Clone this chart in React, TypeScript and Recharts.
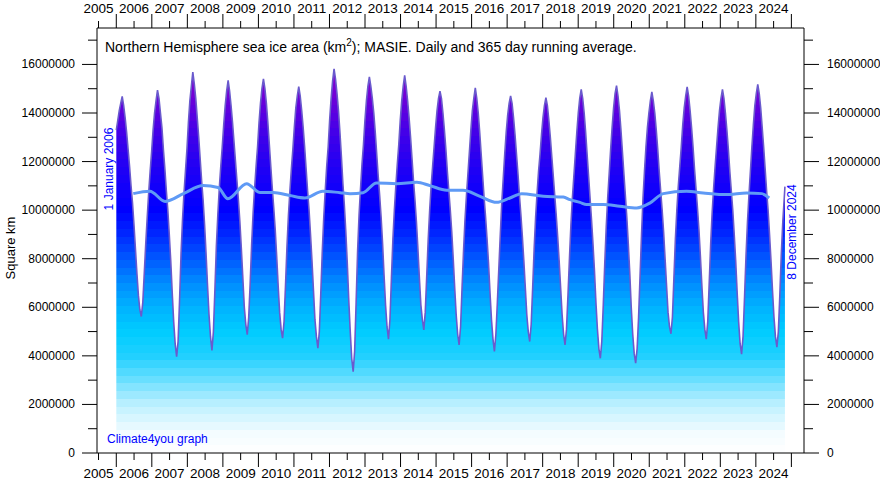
import React from "react"
import { Area, ComposedChart, Line, XAxis, YAxis } from "recharts"

// MASIE northern hemisphere sea ice, million km2
// one value at the 1st and the 16th of every month
const ice2006 = [13.3, 13.7, 14.1, 14.4, 14.68, 14.3, 13.8, 13.2, 12.5, 11.8, 11.0, 10.3, 9.4, 8.4, 7.4, 6.5, 5.9, 5.62, 6.2, 7.4, 8.6, 9.7, 10.7, 11.6]
const ice2007 = [12.4, 13.3, 14.0, 14.5, 14.94, 14.6, 14.0, 13.4, 12.5, 11.7, 10.8, 10.0, 9.0, 7.9, 6.6, 5.4, 4.5, 3.97, 4.6, 6.3, 8.2, 9.6, 10.7, 11.6]
const ice2008 = [12.5, 13.6, 14.5, 15.1, 15.68, 15.2, 14.6, 13.8, 13.0, 12.1, 11.2, 10.4, 9.4, 8.2, 6.9, 5.7, 4.8, 4.22, 5.0, 6.7, 8.5, 9.8, 10.9, 11.8]
const ice2009 = [12.6, 13.5, 14.3, 14.9, 15.34, 14.9, 14.3, 13.6, 12.8, 12.0, 11.2, 10.4, 9.5, 8.4, 7.2, 6.0, 5.3, 4.87, 5.6, 7.0, 8.6, 9.9, 10.9, 11.8]
const ice2010 = [12.6, 13.6, 14.4, 15.0, 15.41, 15.0, 14.4, 13.6, 12.7, 11.8, 10.9, 10.1, 9.2, 8.1, 6.9, 5.8, 5.1, 4.73, 5.4, 6.9, 8.5, 9.8, 10.8, 11.7]
const ice2011 = [12.5, 13.4, 14.2, 14.7, 15.09, 14.7, 14.1, 13.4, 12.6, 11.7, 10.8, 10.0, 9.0, 7.9, 6.7, 5.5, 4.8, 4.32, 5.0, 6.6, 8.3, 9.7, 10.8, 11.8]
const ice2012 = [12.6, 13.7, 14.6, 15.3, 15.82, 15.4, 14.8, 14.1, 13.2, 12.2, 11.1, 10.2, 9.1, 7.8, 6.3, 5.0, 3.9, 3.35, 4.2, 6.2, 8.3, 9.8, 10.9, 11.9]
const ice2013 = [12.7, 13.7, 14.5, 15.1, 15.49, 15.1, 14.6, 14.0, 13.2, 12.3, 11.4, 10.6, 9.7, 8.6, 7.3, 6.1, 5.2, 4.69, 5.5, 7.2, 8.8, 10.0, 11.0, 11.9]
const ice2014 = [12.7, 13.7, 14.5, 15.1, 15.55, 15.1, 14.5, 13.8, 13.0, 12.1, 11.2, 10.4, 9.5, 8.4, 7.2, 6.1, 5.5, 5.07, 5.8, 7.3, 8.8, 10.0, 11.0, 11.8]
const ice2015 = [12.6, 13.4, 14.1, 14.6, 14.9, 14.6, 14.0, 13.3, 12.5, 11.6, 10.8, 10.0, 9.1, 8.0, 6.8, 5.7, 4.9, 4.45, 5.2, 6.8, 8.3, 9.6, 10.6, 11.5]
const ice2016 = [12.4, 13.3, 14.1, 14.6, 15.04, 14.6, 14.0, 13.2, 12.3, 11.4, 10.5, 9.7, 8.8, 7.8, 6.6, 5.5, 4.7, 4.18, 4.9, 6.2, 7.6, 9.0, 10.3, 11.3]
const ice2017 = [12.3, 13.2, 13.9, 14.4, 14.7, 14.4, 13.8, 13.1, 12.3, 11.5, 10.6, 9.8, 8.9, 7.9, 6.8, 5.7, 5.0, 4.59, 5.3, 6.8, 8.4, 9.7, 10.7, 11.6]
const ice2018 = [12.3, 13.1, 13.8, 14.3, 14.63, 14.3, 13.7, 13.0, 12.2, 11.4, 10.6, 9.8, 8.9, 7.9, 6.8, 5.7, 4.9, 4.45, 5.1, 6.5, 8.0, 9.4, 10.5, 11.4]
const ice2019 = [12.3, 13.2, 14.0, 14.6, 14.97, 14.6, 14.0, 13.2, 12.3, 11.4, 10.5, 9.6, 8.6, 7.5, 6.2, 5.1, 4.3, 3.9, 4.6, 6.1, 7.8, 9.3, 10.5, 11.5]
const ice2020 = [12.5, 13.4, 14.2, 14.8, 15.13, 14.7, 14.1, 13.3, 12.4, 11.5, 10.6, 9.7, 8.6, 7.4, 6.0, 4.9, 4.1, 3.7, 4.3, 5.6, 7.3, 9.0, 10.5, 11.6]
const ice2021 = [12.6, 13.4, 14.0, 14.5, 14.87, 14.5, 14.0, 13.3, 12.5, 11.6, 10.8, 10.0, 9.1, 8.0, 6.9, 5.8, 5.2, 4.91, 5.6, 7.2, 8.8, 10.0, 11.0, 11.8]
const ice2022 = [12.6, 13.5, 14.2, 14.7, 15.08, 14.7, 14.1, 13.4, 12.6, 11.7, 10.9, 10.1, 9.2, 8.1, 6.9, 5.8, 5.1, 4.69, 5.4, 7.0, 8.6, 9.9, 10.9, 11.8]
const ice2023 = [12.6, 13.4, 14.1, 14.6, 14.97, 14.6, 14.0, 13.3, 12.5, 11.6, 10.8, 10.0, 9.0, 7.9, 6.6, 5.4, 4.5, 4.07, 4.8, 6.4, 8.1, 9.5, 10.6, 11.6]
const ice2024 = [12.6, 13.5, 14.3, 14.8, 15.18, 14.8, 14.2, 13.4, 12.6, 11.7, 10.8, 10.0, 9.0, 7.9, 6.7, 5.6, 4.8, 4.36, 5.0, 6.5, 8.2, 9.5, 10.5]
const lastDay = { t: 2024.936, v: 10.97 } // 8 December 2024

const iceYears = [2006, 2007, 2008, 2009, 2010, 2011, 2012, 2013, 2014, 2015, 2016, 2017, 2018, 2019, 2020, 2021, 2022, 2023, 2024]
const iceByYear = [ice2006, ice2007, ice2008, ice2009, ice2010, ice2011, ice2012, ice2013, ice2014, ice2015, ice2016, ice2017, ice2018, ice2019, ice2020, ice2021, ice2022, ice2023, ice2024]

// 365 day running average
const avgTimes = [2006.48, 2006.95, 2007.38, 2007.9, 2008.46, 2008.88, 2009.16, 2009.69, 2010.07, 2010.44, 2010.92, 2011.34, 2011.85, 2012.34, 2012.62, 2012.99, 2013.37, 2013.94, 2014.51, 2014.88, 2015.36, 2015.82, 2016.3, 2016.77, 2017.15, 2017.48, 2018.09, 2018.66, 2018.85, 2019.13, 2019.32, 2019.79, 2020.26, 2020.74, 2021.12, 2021.49, 2022.15, 2022.62, 2023.29, 2023.85, 2024.28, 2024.49]
const avgValues = [10.68, 10.78, 10.36, 10.68, 11.01, 10.93, 10.47, 11.09, 10.73, 10.73, 10.6, 10.5, 10.78, 10.72, 10.68, 10.72, 11.12, 11.09, 11.15, 11.01, 10.82, 10.82, 10.57, 10.32, 10.5, 10.68, 10.57, 10.54, 10.43, 10.32, 10.23, 10.23, 10.16, 10.09, 10.3, 10.68, 10.78, 10.71, 10.64, 10.71, 10.68, 10.5]

const yearTicks = [2006, 2007, 2008, 2009, 2010, 2011, 2012, 2013, 2014, 2015, 2016, 2017, 2018, 2019, 2020, 2021, 2022, 2023, 2024, 2025]
const yearLabels = ["2005", "2006", "2007", "2008", "2009", "2010", "2011", "2012", "2013", "2014", "2015", "2016", "2017", "2018", "2019", "2020", "2021", "2022", "2023", "2024"]
const valueTicks = [0, 1, 2, 3, 4, 5, 6, 7, 8, 9, 10, 11, 12, 13, 14, 15, 16, 17]

const iceData: { t: number; v: number }[] = []
iceByYear.forEach((vals, k) => {
  vals.forEach((v, i) => iceData.push({ t: iceYears[k] + i / 24, v }))
})
iceData.push(lastDay)

const avgData = avgTimes.map((t, i) => ({ t, v: avgValues[i] }))

// label sits mid-year, between the year boundary ticks
const labelTicks = yearLabels.map((s) => Number(s) + 0.5)
const allXTicks = [...labelTicks, ...yearTicks].sort((a, b) => a - b)

const FONT = "'Liberation Sans', Arial, sans-serif"
const W = 880
const H = 482
const LEFT = 97
const RIGHT = 804
const TOP = 28
const BOTTOM = 453
const Y_MAX = 17.5

// colour bands of the fill, by value
const ramp: [number, number[]][] = [
  [0, [255, 255, 255]],
  [0.8, [244, 252, 255]],
  [2, [189, 240, 255]],
  [3, [106, 223, 255]],
  [4, [32, 208, 255]],
  [5, [0, 204, 255]],
  [6, [0, 178, 255]],
  [7, [0, 140, 255]],
  [8, [0, 88, 255]],
  [9, [0, 40, 255]],
  [10, [0, 0, 255]],
  [11, [18, 0, 250]],
  [12, [38, 0, 242]],
  [13, [62, 0, 234]],
  [14, [90, 0, 224]],
  [15, [120, 0, 212]],
  [16, [140, 0, 204]],
  [17.5, [154, 0, 196]],
]

function rampColor(v: number) {
  for (let i = 1; i < ramp.length; i++) {
    const [v1, c1] = ramp[i]
    const [v0, c0] = ramp[i - 1]
    if (v <= v1) {
      const f = (v - v0) / (v1 - v0)
      const c = c0.map((a, j) => Math.round(a + (c1[j] - a) * f))
      return `rgb(${c[0]},${c[1]},${c[2]})`
    }
  }
  return "rgb(154,0,196)"
}

const BANDS = 55
const bandStops: { off: number; color: string }[] = []
for (let k = 0; k < BANDS; k++) {
  const color = rampColor(((k + 0.5) / BANDS) * Y_MAX)
  bandStops.push({ off: k / BANDS, color })
  bandStops.push({ off: (k + 1) / BANDS, color })
}

function XTick(props: any) {
  const { x, y, payload, orientation } = props
  const v = payload.value
  const isYear = Number.isInteger(v)
  const len = isYear ? 14 : 7
  const dir = orientation === "top" ? -1 : 1
  return (
    <g>
      <line x1={x} x2={x} y1={y} y2={y + dir * len} stroke="#000" strokeWidth={1} />
      {!isYear && (
        <text
          x={x}
          y={orientation === "top" ? y - 15 : y + 25}
          textAnchor="middle"
          fontSize={13.5}
          fontFamily={FONT}
          fill="#000"
        >
          {String(Math.floor(v))}
        </text>
      )}
    </g>
  )
}

function YTick(props: any) {
  const { x, y, payload, orientation } = props
  const v = payload.value
  const major = v % 2 === 0
  const len = major ? 15 : 9
  const dir = orientation === "right" ? 1 : -1
  return (
    <g>
      <line x1={x} x2={x + dir * len} y1={y} y2={y} stroke="#000" strokeWidth={1} />
      {major && (
        <text
          x={orientation === "right" ? x + 23 : x - 22}
          y={y + 4}
          textAnchor={orientation === "right" ? "start" : "end"}
          fontSize={12}
          fontFamily={FONT}
          fill="#000"
        >
          {String(Math.round(v * 1000000))}
        </text>
      )}
    </g>
  )
}

export default function App() {
  return (
    <div style={{ position: "absolute", left: 0, top: 0, width: W, height: H, background: "#fff" }}>
      <ComposedChart width={W} height={H} margin={{ top: 0, right: 0, bottom: 0, left: 0 }}>
        <defs>
          <linearGradient id="iceGrad" gradientUnits="userSpaceOnUse" x1={0} x2={0} y1={BOTTOM} y2={TOP}>
            {bandStops.map((s, i) => (
              <stop key={i} offset={s.off} stopColor={s.color} />
            ))}
          </linearGradient>
        </defs>
        <XAxis
          xAxisId="data"
          type="number"
          dataKey="t"
          domain={[2005.453, 2025.476]}
          allowDataOverflow
          hide
        />
        <XAxis
          xAxisId="top"
          orientation="top"
          type="number"
          dataKey="t"
          domain={[2005.457, 2025.355]}
          allowDataOverflow
          ticks={allXTicks}
          interval={0}
          height={TOP}
          tickSize={0}
          tickMargin={0}
          tickLine={false}
          axisLine={{ stroke: "#000", strokeWidth: 1 }}
          tick={<XTick orientation="top" />}
        />
        <XAxis
          xAxisId="bottom"
          orientation="bottom"
          type="number"
          dataKey="t"
          domain={[2005.457, 2025.355]}
          allowDataOverflow
          ticks={allXTicks}
          interval={0}
          height={H - BOTTOM}
          tickSize={0}
          tickMargin={0}
          tickLine={false}
          axisLine={{ stroke: "#000", strokeWidth: 1 }}
          tick={<XTick orientation="bottom" />}
        />
        <YAxis
          yAxisId="left"
          type="number"
          domain={[0, Y_MAX]}
          allowDataOverflow
          ticks={valueTicks}
          interval={0}
          width={LEFT}
          tickSize={0}
          tickMargin={0}
          tickLine={false}
          axisLine={{ stroke: "#000", strokeWidth: 1 }}
          tick={<YTick orientation="left" />}
        />
        <YAxis
          yAxisId="right"
          orientation="right"
          type="number"
          domain={[0, Y_MAX]}
          allowDataOverflow
          ticks={valueTicks}
          interval={0}
          width={W - RIGHT}
          tickSize={0}
          tickMargin={0}
          tickLine={false}
          axisLine={{ stroke: "#000", strokeWidth: 1 }}
          tick={<YTick orientation="right" />}
        />
        <Area
          xAxisId="data"
          yAxisId="left"
          data={iceData}
          dataKey="v"
          type="linear"
          baseValue={0}
          stroke="#6a5acd"
          strokeWidth={1.6}
          fill="url(#iceGrad)"
          fillOpacity={1}
          dot={false}
          activeDot={false}
          isAnimationActive={false}
        />
        <Line
          xAxisId="data"
          yAxisId="left"
          data={avgData}
          dataKey="v"
          type="monotone"
          stroke="#5f9af5"
          strokeWidth={3}
          dot={false}
          activeDot={false}
          isAnimationActive={false}
        />
      </ComposedChart>
      <svg
        width={W}
        height={H}
        style={{ position: "absolute", left: 0, top: 0, pointerEvents: "none" }}
        fontFamily={FONT}
      >
        <text x={105} y={52} fontSize={14} fill="#000">
          Northern Hemisphere sea ice area (km
          <tspan dy={-6} fontSize={10}>2</tspan>
          <tspan dy={6}>); MASIE. Daily and 365 day running average.</tspan>
        </text>
        <text x={15} y={248} fontSize={13} fill="#000" textAnchor="middle" transform="rotate(-90 15 248)">
          Square km
        </text>
        <text x={113} y={169} fontSize={12} fill="#0000ff" textAnchor="middle" transform="rotate(-90 113 169)">
          1 January 2006
        </text>
        <text x={796} y={232} fontSize={12} fill="#0000ff" textAnchor="middle" transform="rotate(-90 796 232)">
          8 December 2024
        </text>
        <text x={107} y={443} fontSize={12} fill="#0000ff">
          Climate4you graph
        </text>
      </svg>
    </div>
  )
}
